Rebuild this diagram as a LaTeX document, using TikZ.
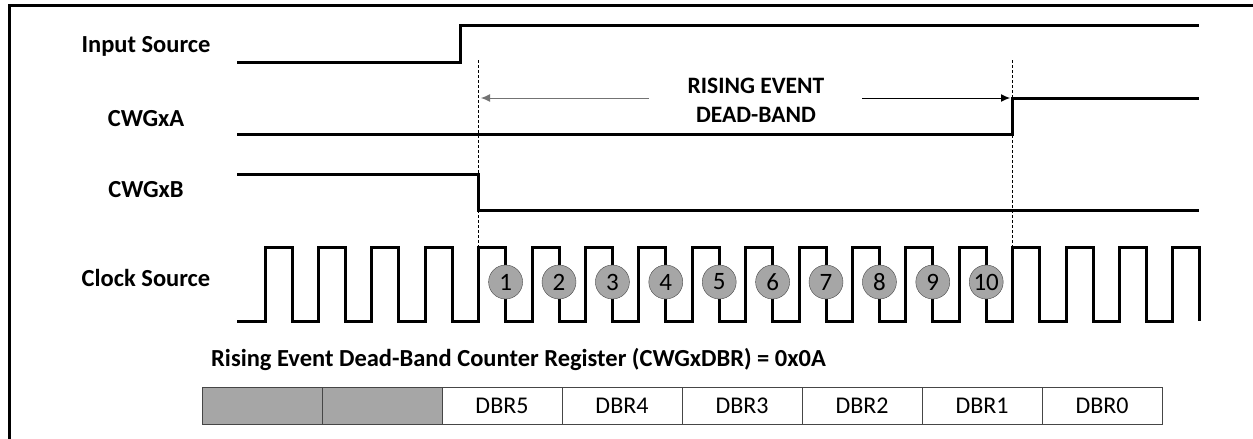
\documentclass[tikz,border=0pt]{standalone}
\usepackage{fontspec}
\setmainfont{Carlito}
\usetikzlibrary{arrows.meta}
\definecolor{cellgray}{RGB}{166,166,166}
\definecolor{rimgray}{RGB}{70,70,70}

\begin{document}
\begin{tikzpicture}[x=1pt, y=-1pt,
  font=\fontsize{24.5}{29}\selectfont\bfseries,
  sig/.style={line width=3pt, line join=miter},
  guide/.style={dashed, line width=1pt, dash pattern=on 3pt off 2pt},
  lbl/.style={anchor=base, inner sep=0pt},
  cnt/.style={circle, draw=rimgray, fill=cellgray, minimum size=34pt, inner sep=0pt,
    font=\fontsize{25}{25}\selectfont},
  reg/.style={draw=rimgray, minimum width=120pt, minimum height=37pt, inner sep=0pt,
    font=\fontsize{24}{24}\selectfont},
  p/.style={-{Latex[length=9pt, width=8pt]}, line width=1pt}]
\useasboundingbox (0,0) rectangle (1253,439);
\draw[line width=3pt] (9,439) -- (9,5) -- (1253,5);
% signal names
\node[lbl] (insrc) at (146,52) {Input Source};
\node[lbl] (cwga) at (146,126) {CWGxA};
\node[lbl] (cwgb) at (146,197) {CWGxB};
\node[lbl] (clk) at (146,286) {Clock Source};
% waveforms
\draw[sig] (237,62) -- (460,62) -- (460,25) -- (1199,25);
\draw[sig] (237,134) -- (1012,134) -- (1012,98) -- (1199,98);
\draw[sig] (237,174) -- (478,174) -- (478,210) -- (1199,210);
\draw[sig] (237,321) \foreach \k in {0,...,17}{
  -- ({265+53.4*\k},321) -- ({265+53.4*\k},247)
  -- ({292+53.4*\k},247) -- ({292+53.4*\k},321)};
% dead-band markers
\coordinate (dbl) at (478,98);
\coordinate (dbr) at (1012,98);
\coordinate (al) at (649,98);
\coordinate (ar) at (862,98);
\draw[guide] (478,60) -- (478,246);
\draw[guide] (1012,60) -- (1012,246);
\node[align=center, font=\fontsize{23.5}{29}\selectfont\bfseries] (db) at (756,100)
  {RISING EVENT\\DEAD-BAND};
\draw[p, black!55] (al) -- ([xshift=3pt]dbl);
\draw[p] (ar) -- ([xshift=-2pt]dbr);
% counted clocks
\foreach \n in {1,...,10}
  \node[cnt] (c\n) at ({292+53.4*(\n+3)},282) {\n};
% register
\node[lbl, anchor=base west] (title) at (211,366)
  {Rising Event Dead-Band Counter Register (CWGxDBR) = 0x0A};
\node[reg, fill=cellgray] (r0) at (262,405.5) {};
\node[reg, fill=cellgray] (r1) at (382,405.5) {};
\foreach \i in {2,...,7}{
  \pgfmathtruncatemacro{\b}{7-\i}
  \node[reg] (r\i) at ({262+120*\i},405.5) {DBR\b};
}
\end{tikzpicture}
\end{document}
